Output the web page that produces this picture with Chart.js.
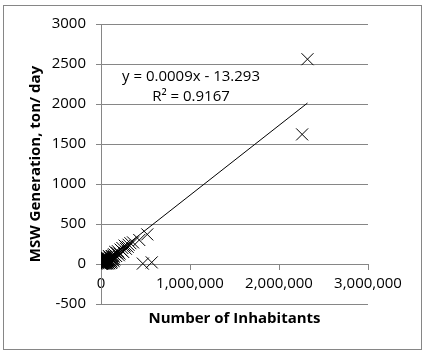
<!DOCTYPE html>
<html lang="en">
<head>
  <meta charset="UTF-8" />
  <title>MSW Generation vs Number of Inhabitants</title>
  <script src="https://cdn.jsdelivr.net/npm/chart.js"></script>
  <style>
    html, body { margin: 0; padding: 0; background: #fff; }
    #wrap { width: 423px; height: 353px; position: relative; }
  </style>
</head>
<body>
  <div id="wrap"><canvas id="grafico"></canvas></div>
  <script>
    // inhabitants per town
    const habitantes = [
      2320000, 2260000, 520000, 430000, 470000, 570000,
      360000, 330000, 310000, 300000, 280000, 265000, 250000, 240000,
      230000, 220000, 210000, 200000, 190000, 180000, 170000, 160000,
      150000, 145000, 140000, 130000, 125000, 120000, 110000, 105000,
      100000, 95000, 90000, 85000, 80000, 75000, 70000, 68000, 65000,
      60000, 58000, 55000, 50000, 48000, 45000, 42000, 40000, 38000,
      35000, 33000, 30000, 28000, 25000, 22000, 20000, 18000, 15000,
      14000, 12000, 10000, 9000, 8000, 6000, 5000, 4000, 3000, 2000,
      1500, 1000, 500, 62000, 52000, 44000, 36000, 26000, 16000, 7000,
      72000, 88000, 24000, 11000, 3500,
      140000, 120000, 110000, 98000, 92000, 84000, 78000, 66000, 57000,
      150000, 135000, 115000
    ];
    // MSW generation, ton/day
    const residuos = [
      2560, 1620, 370, 300, 5, 20,
      270, 260, 240, 215, 190, 230, 150, 200,
      170, 180, 130, 110, 160, 140, 100, 150,
      120, 90, 110, 70, 100, 95, 60, 85,
      80, 50, 65, 40, 55, 35, 60, 80, 30,
      45, 15, 25, 40, 30, 20, 10, 35, 55,
      15, 70, 25, 50, 10, 65, 20, 8, 12,
      55, 5, 30, 45, 6, 40, 3, 15, 50, 2,
      25, 10, 60, 70, 90, 75, 5, 85, 35, 20,
      45, 100, 40, 70, 30,
      40, 25, 15, 30, 10, 20, 5, 12, 3,
      60, 45, 35
    ];
    // trend line as drawn, and its label as printed
    const pendiente = 0.000873;
    const intercepto = -13.293;
    const ecuacion = 'y = 0.0009x - 13.293';
    const r2Texto = 'R\u00B2 = 0.9167';
    const xTicks = [0, 1000000, 2000000, 3000000];
    const yMin = -500, yMax = 3000, yPaso = 500;

    const gris = '#868686';
    const fuente = '"Open Sans", "Liberation Sans", sans-serif';

    const puntos = habitantes.map((h, i) => ({ x: h, y: residuos[i] }));
    const xMinDato = Math.min(...habitantes);
    const xMaxDato = Math.max(...habitantes);
    const tendencia = [
      { x: xMinDato, y: pendiente * xMinDato + intercepto },
      { x: xMaxDato, y: pendiente * xMaxDato + intercepto }
    ];

    const extras = {
      id: 'extras',
      afterDraw(chart) {
        const ctx = chart.ctx;
        const area = chart.chartArea;
        ctx.save();
        // marco exterior
        ctx.strokeStyle = gris;
        ctx.lineWidth = 1;
        ctx.strokeRect(3.5, 5.5, 418, 344);
        // titulo eje x
        ctx.fillStyle = '#000';
        ctx.font = 'bold 15px ' + fuente;
        ctx.textAlign = 'center';
        ctx.textBaseline = 'middle';
        ctx.fillText('Number of Inhabitants', (area.left + area.right) / 2, 319);
        // ecuacion
        ctx.font = '15px ' + fuente;
        ctx.fillText(ecuacion, 191, 77);
        ctx.fillText(r2Texto, 191, 97);
        ctx.restore();
      }
    };

    new Chart(document.getElementById('grafico'), {
      type: 'scatter',
      data: {
        datasets: [
          {
            label: 'datos',
            data: puntos,
            pointStyle: 'crossRot',
            pointRadius: 8.5,
            pointHoverRadius: 8.5,
            borderColor: '#000',
            backgroundColor: '#000',
            borderWidth: 1
          },
          {
            label: 'tendencia',
            type: 'line',
            data: tendencia,
            borderColor: '#000',
            borderWidth: 1,
            pointRadius: 0,
            fill: false
          }
        ]
      },
      options: {
        responsive: true,
        maintainAspectRatio: false,
        animation: false,
        layout: { padding: { left: 3, top: 24, right: 55, bottom: 49 } },
        plugins: {
          legend: { display: false },
          tooltip: { enabled: false }
        },
        scales: {
          x: {
            type: 'linear',
            position: { y: 0 },
            min: 0,
            max: 3000000,
            afterBuildTicks(scale) {
              scale.ticks = xTicks.map(v => ({ value: v }));
            },
            ticks: {
              color: '#000',
              font: { family: fuente, size: 15 },
              padding: 6,
              maxRotation: 0,
              callback: v => v.toLocaleString('en-US')
            },
            grid: { drawOnChartArea: false, drawTicks: true, tickLength: 5, color: gris },
            border: { display: true, color: gris }
          },
          y: {
            min: yMin,
            max: yMax,
            afterFit(scale) { scale.width = 98; },
            ticks: {
              stepSize: yPaso,
              color: '#000',
              font: { family: fuente, size: 15 },
              padding: 10,
              callback: v => String(v)
            },
            grid: { color: gris, tickLength: 5 },
            border: { display: true, color: gris },
            title: {
              display: true,
              text: 'MSW Generation, ton/ day',
              color: '#000',
              font: { family: fuente, size: 15, weight: 'bold' },
              padding: { top: 24, bottom: 0 }
            }
          }
        }
      },
      plugins: [extras]
    });
  </script>
</body>
</html>
